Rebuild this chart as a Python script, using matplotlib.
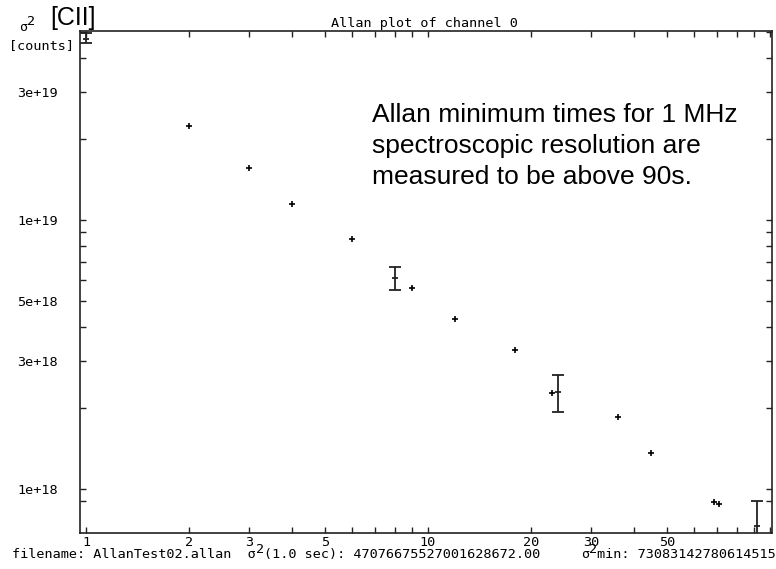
import matplotlib
matplotlib.use("Agg")
import matplotlib.pyplot as plt
from matplotlib import font_manager
import numpy as np

# ---- data ----
tau = [2, 3, 4, 6, 9, 12, 18, 23, 36, 45, 68.6, 71]
sigma2 = [2.23e19, 1.56e19, 1.15e19, 8.5e18, 5.58e18, 4.29e18, 3.29e18,
          2.28e18, 1.85e18, 1.36e18, 8.96e17, 8.80e17]

err_tau = [1, 8, 24, 91.6]
err_val = [4.7077e19, 6.08e18, 2.29e18, 7.31e17]
err_low = [4.55e19, 5.50e18, 1.93e18, 5.60e17]
err_high = [4.95e19, 6.68e18, 2.66e18, 9.02e17]

x_major = [1, 2, 3, 5, 10, 20, 30, 50]
x_major_labels = ["1", "2", "3", "5", "10", "20", "30", "50"]
x_minor = [4, 6, 7, 8, 9, 40, 60, 70, 80, 90, 100]
y_major = [3e19, 1e19, 5e18, 3e18, 1e18]
y_major_labels = ["3e+19", "1e+19", "5e+18", "3e+18", "1e+18"]
y_minor = [5e19, 4e19, 2e19, 9e18, 8e18, 7e18, 6e18, 4e18, 2e18, 9e17]

title = "Allan plot of channel 0"
note = "Allan minimum times for 1 MHz\nspectroscopic resolution are\nmeasured to be above 90s."

mono = "DejaVu Sans Mono"
fs = 9.7

# find regular (non-narrow) Liberation Sans
sans_path = None
for f in font_manager.findSystemFonts():
    name = f.split("/")[-1]
    if name.lower() in ("liberationsans-regular.ttf", "arial.ttf"):
        sans_path = f
        break


def sans(size):
    if sans_path:
        return font_manager.FontProperties(fname=sans_path, size=size)
    return font_manager.FontProperties(family="Liberation Sans", size=size)


fig = plt.figure(figsize=(7.76, 5.69), dpi=100)
ax = fig.add_axes([80 / 776, 1 - 533 / 569, (772 - 80) / 776, (533 - 31) / 569])
ax.set_xscale("log")
ax.set_yscale("log")
ax.set_xlim(0.9604, 101.35)
ax.set_ylim(6.86e17, 5.04e19)

ax.plot(tau, sigma2, linestyle="none", marker="+", color="black",
        markersize=4, markeredgewidth=1.2)

ev = np.array(err_val)
lower = ev - np.array(err_low)
upper = np.array(err_high) - ev
ax.errorbar(err_tau, err_val, yerr=[lower, upper], fmt="none", ecolor="#222222",
            elinewidth=1.3, capsize=4, capthick=1.3)
ax.plot(err_tau, err_val, linestyle="none", marker="_", color="#222222",
        markersize=5, markeredgewidth=1.3)

ax.xaxis.set_major_locator(matplotlib.ticker.FixedLocator(x_major))
ax.xaxis.set_major_formatter(matplotlib.ticker.FixedFormatter(x_major_labels))
ax.xaxis.set_minor_locator(matplotlib.ticker.FixedLocator(x_minor))
ax.xaxis.set_minor_formatter(matplotlib.ticker.NullFormatter())
ax.yaxis.set_major_locator(matplotlib.ticker.FixedLocator(y_major))
ax.yaxis.set_major_formatter(matplotlib.ticker.FixedFormatter(y_major_labels))
ax.yaxis.set_minor_locator(matplotlib.ticker.FixedLocator(y_minor))
ax.yaxis.set_minor_formatter(matplotlib.ticker.NullFormatter())

ax.tick_params(which="both", direction="in", top=True, right=True,
               length=4.5, width=1, color="#222222")
ax.tick_params(axis="x", which="major", pad=2)
ax.tick_params(axis="y", which="major", pad=16)
for lab in ax.get_xticklabels() + ax.get_yticklabels():
    lab.set_fontfamily(mono)
    lab.set_fontsize(fs)
for sp in ax.spines.values():
    sp.set_linewidth(1.2)
    sp.set_color("#222222")

fig.text(424 / 776, 1 - 30 / 569, title, ha="center", va="bottom",
         fontfamily=mono, fontsize=fs)

ax.text(372 / 776, 1 - 184 / 569, note, transform=fig.transFigure,
        ha="left", va="baseline", fontproperties=sans(19), linespacing=1.37)

# y-axis label
t_s = fig.text(19 / 776, 1 - 34 / 569, "σ", ha="left", va="bottom",
               fontfamily=mono, fontsize=fs)
ax.annotate("2", xy=(1, 0.45), xycoords=t_s, ha="left", va="bottom",
            fontfamily=mono, fontsize=fs, annotation_clip=False)
fig.text(41 / 776, 1 - 46 / 569, "[counts]", ha="center", va="center",
         fontfamily=mono, fontsize=fs)
fig.text(50 / 776, 1 - 25 / 569, "[CII]", ha="left", va="baseline",
         fontproperties=sans(18))

# bottom info line
b1 = fig.text(12 / 776, 1 - 561 / 569, "filename: AllanTest02.allan  σ",
              ha="left", va="bottom", fontfamily=mono, fontsize=fs)
b2 = ax.annotate("2", xy=(1, 0.4), xycoords=b1, ha="left", va="bottom",
                 fontfamily=mono, fontsize=fs, annotation_clip=False)
ax.annotate("(1.0 sec): 47076675527001628672.00", xy=(1, 0), xycoords=(b2, b1),
            ha="left", va="bottom", fontfamily=mono, fontsize=fs,
            annotation_clip=False)
c1 = fig.text(581 / 776, 1 - 561 / 569, "σ", ha="left", va="bottom",
              fontfamily=mono, fontsize=fs)
c2 = ax.annotate("2", xy=(1, 0.35), xycoords=c1, ha="left", va="bottom",
                 fontfamily=mono, fontsize=fs, annotation_clip=False)
ax.annotate("min: 73083142780614515", xy=(1, 0), xycoords=(c2, c1),
            ha="left", va="bottom", fontfamily=mono, fontsize=fs,
            annotation_clip=False)

fig.savefig("out.png", dpi=100)
